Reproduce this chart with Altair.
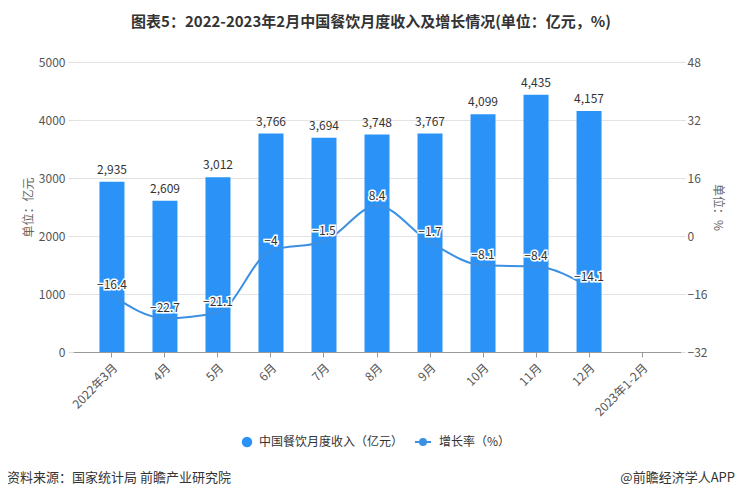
import altair as alt
import pandas as pd

months = ["2022年3月", "4月", "5月", "6月", "7月", "8月", "9月", "10月", "11月", "12月", "2023年1-2月"]
revenue = [2935, 2609, 3012, 3766, 3694, 3748, 3767, 4099, 4435, 4157, None]
growth = [-16.4, -22.7, -21.1, -4, -1.5, 8.4, -1.7, -8.1, -8.4, -14.1, None]
left_ticks = [0, 1000, 2000, 3000, 4000, 5000]
right_ticks = [-32, -16, 0, 16, 32, 48]
bar_name = "中国餐饮月度收入（亿元）"
line_name = "增长率（%）"

df = pd.DataFrame({"month": months, "revenue": revenue, "growth": growth,
                   "bar_s": bar_name, "line_s": line_name})

FONT = "Noto Sans CJK SC"
BAR_C = "#2B93F7"
LINE_C = "#3C90E4"

x_enc = alt.X("month:N", sort=months,
              scale=alt.Scale(paddingInner=0.53, paddingOuter=0.5),
              axis=alt.Axis(title=None, labelAngle=-45, labelColor="#555", labelFontSize=12,
                            domainColor="#999", tickColor="#999", tickSize=5, labelPadding=5))

base = alt.Chart(df)

bars = base.mark_bar(size=25).encode(
    x=x_enc,
    y=alt.Y("revenue:Q", scale=alt.Scale(domain=[0, 5000], nice=False),
            axis=alt.Axis(title="单位：亿元", orient="left", values=left_ticks, format="d",
                          labelColor="#555", labelFontSize=12, titleColor="#666",
                          titleFontWeight="normal", titleFontSize=12, titlePadding=3,
                          labelPadding=3, domain=False, tickColor="#ddd", tickSize=5,
                          gridColor="#e3e3e3")),
    fill=alt.Fill("bar_s:N", scale=alt.Scale(range=[BAR_C]),
                  legend=alt.Legend(title=None, orient="none", legendX=168, legendY=374,
                                    symbolType="circle", symbolSize=110, labelFontSize=12,
                                    labelColor="#333", labelOffset=6, padding=0)),
)
bar_text = base.mark_text(dy=-5, baseline="bottom", fontSize=12, color="#333").encode(
    x=alt.X("month:N", sort=months),
    y="revenue:Q",
    text=alt.Text("revenue:Q", format=","),
)

line = base.mark_line(interpolate="monotone", strokeWidth=2).encode(
    x=alt.X("month:N", sort=months),
    y=alt.Y("growth:Q", scale=alt.Scale(domain=[-32, 48], nice=False),
            axis=alt.Axis(title="单位：%", orient="right", values=right_ticks, format="d",
                          labelColor="#555", labelFontSize=12, titleColor="#666",
                          titleFontWeight="normal", titleFontSize=12, titlePadding=4,
                          labelPadding=2, domain=False, grid=False, tickColor="#ddd", tickSize=4)),
    stroke=alt.Stroke("line_s:N", scale=alt.Scale(range=[LINE_C]),
                      legend=alt.Legend(title=None, orient="none", legendX=344, legendY=374,
                                        symbolType="M-1.6,0H1.6M0.6,0A0.6,0.6,0,1,1,-0.6,0A0.6,0.6,0,1,1,0.6,0Z",
                                        symbolSize=100, symbolStrokeWidth=2,
                                        symbolFillColor=LINE_C, labelFontSize=12,
                                        labelColor="#333", labelOffset=10, padding=0)),
)
halo = base.mark_text(dy=-10, fontSize=12, stroke="white", strokeWidth=3, color="white").encode(
    x=alt.X("month:N", sort=months),
    y="growth:Q",
    text=alt.Text("growth:Q", format=".1~f"),
)
line_text = base.mark_text(dy=-10, fontSize=12, color="#333").encode(
    x=alt.X("month:N", sort=months),
    y="growth:Q",
    text=alt.Text("growth:Q", format=".1~f"),
)

foot = pd.DataFrame({"a": [0]})
foot_left = alt.Chart(foot).mark_text(align="left", baseline="middle", fontSize=13, color="#333").encode(
    x=alt.value(-66), y=alt.value(416), text=alt.value("资料来源：国家统计局 前瞻产业研究院"))
foot_right = alt.Chart(foot).mark_text(align="right", baseline="middle", fontSize=13, color="#333").encode(
    x=alt.value(662), y=alt.value(416), text=alt.value("@前瞻经济学人APP"))

left_layer = alt.layer(bars, bar_text)
right_layer = alt.layer(line, halo, line_text)

chart = alt.layer(left_layer, right_layer, foot_left, foot_right).resolve_scale(
    y="independent", fill="independent", stroke="independent"
).properties(
    width=608, height=290,
    autosize=alt.AutoSizeParams(type="none"),
    padding={"left": 65, "top": 54, "right": 55, "bottom": 139},
    title=alt.TitleParams("图表5：2022-2023年2月中国餐饮月度收入及增长情况(单位：亿元，%)",
                          anchor="middle", fontSize=15, fontWeight="bold", color="#333",
                          font=FONT, offset=26, dx=-6),
).configure(font=FONT).configure_view(stroke=None).configure_axis(labelFont=FONT, titleFont=FONT)

chart.save("out.html", embed_options={"renderer": "svg", "actions": False})
